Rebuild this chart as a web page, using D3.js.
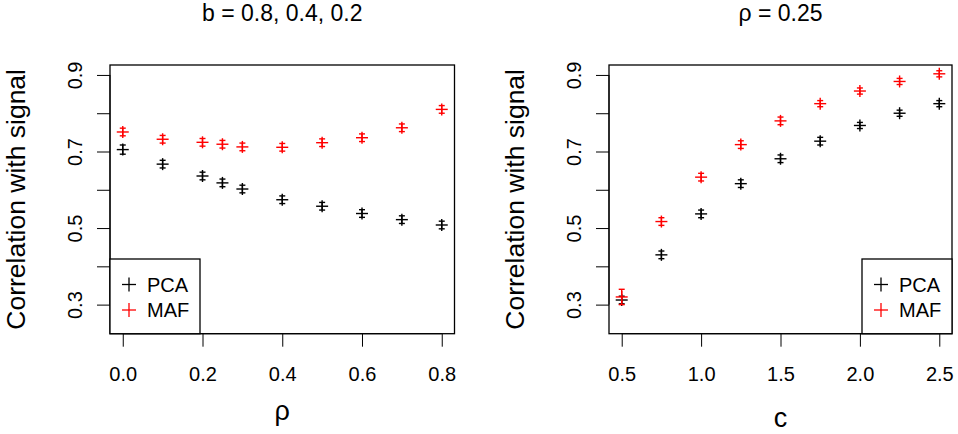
<!DOCTYPE html>
<html><head><meta charset="utf-8">
<script src="https://cdn.jsdelivr.net/npm/d3@7"></script>
<style>
html,body{margin:0;padding:0;background:#fff;}
text{font-family:"Liberation Sans",Arial,Helvetica,sans-serif;fill:#000;}
</style></head>
<body>
<svg id="chart" width="958" height="434"></svg>
<script>
// ---- data ----
const rhoValues = [0, 0.1, 0.2, 0.25, 0.3, 0.4, 0.5, 0.6, 0.7, 0.8];
const leftPCA = [0.705, 0.667, 0.636, 0.618, 0.602, 0.574, 0.557, 0.538, 0.522, 0.508];
const leftMAF = [0.751, 0.732, 0.724, 0.719, 0.712, 0.711, 0.723, 0.736, 0.762, 0.810];
const leftPCAerr = [0.012, 0.010, 0.010, 0.010, 0.010, 0.010, 0.010, 0.010, 0.010, 0.010];
const leftMAFerr = [0.010, 0.010, 0.010, 0.010, 0.010, 0.010, 0.010, 0.010, 0.010, 0.010];

const cValues = [0.5, 0.75, 1.0, 1.25, 1.5, 1.75, 2.0, 2.25, 2.5];
const rightPCA = [0.312, 0.430, 0.537, 0.616, 0.681, 0.727, 0.768, 0.800, 0.825];
const rightMAF = [0.320, 0.517, 0.633, 0.718, 0.780, 0.825, 0.858, 0.883, 0.903];
const rightPCAerr = [0.010, 0.010, 0.010, 0.010, 0.010, 0.010, 0.008, 0.008, 0.008];
const rightMAFerr = [0.020, 0.010, 0.010, 0.010, 0.010, 0.008, 0.008, 0.008, 0.008];

const yTicks = [0.3, 0.4, 0.5, 0.6, 0.7, 0.8, 0.9];
const yTickLabels = ["0.3", "", "0.5", "", "0.7", "", "0.9"];
const leftXTicks = [0, 0.2, 0.4, 0.6, 0.8];
const rightXTicks = [0.5, 1.0, 1.5, 2.0, 2.5];
const seriesNames = ["PCA", "MAF"];
const seriesColors = ["#000000", "#ff0000"];

const svg = d3.select("#chart");
const FONT = '"Liberation Sans",Arial,sans-serif';

function panel(opts) {
  const {x0, x1, y0, y1, xDomain, xTicks, xs, series, errs, title, xlab, xlabY, legendSide} = opts;
  const g = svg.append("g");
  // R-style 4% extension
  const ext = (a, b) => { const r = b - a; return [a - 0.04 * r, b + 0.04 * r]; };
  const x = d3.scaleLinear().domain(ext(xDomain[0], xDomain[1])).range([x0, x1]);
  const y = d3.scaleLinear().domain(ext(0.25, 0.9)).range([y1, y0]);

  // x axis
  const xa = g.append("g").attr("transform", `translate(0,${y1})`)
    .call(d3.axisBottom(x).tickValues(xTicks).tickFormat(d3.format(".1f")).tickSize(13));
  xa.select(".domain").attr("d", `M${x(xTicks[0])},0H${x(xTicks[xTicks.length-1])}`);
  xa.selectAll("text").attr("font-size", 20).style("font-family", FONT)
    .attr("y", 47).attr("dy", null);
  xa.selectAll("line,path").attr("stroke", "#000");

  // y axis
  const ya = g.append("g").attr("transform", `translate(${x0},0)`)
    .call(d3.axisLeft(y).tickValues(yTicks).tickFormat((d, i) => yTickLabels[i]).tickSize(13));
  ya.select(".domain").attr("d", `M0,${y(yTicks[0])}V${y(yTicks[yTicks.length-1])}`);
  ya.selectAll("line,path").attr("stroke", "#000");
  ya.selectAll("text")
    .attr("font-size", 20)
    .style("font-family", FONT)
    .attr("x", null).attr("dy", null)
    .attr("text-anchor", "middle")
    .attr("transform", `translate(-28,0) rotate(-90)`)
    .attr("y", 0);

  // box
  g.append("rect").attr("x", x0).attr("y", y0).attr("width", x1 - x0).attr("height", y1 - y0)
    .attr("fill", "none").attr("stroke", "#000").attr("stroke-width", 1.3);

  // points
  series.forEach((vals, si) => {
    const col = seriesColors[si];
    const pg = g.append("g").attr("stroke", col).attr("stroke-width", 1.4).attr("fill", "none");
    vals.forEach((v, i) => {
      const cx = x(xs[i]), cy = y(v);
      const e = errs[si][i];
      const yt = y(v + e), yb = y(v - e);
      // error bar
      pg.append("line").attr("x1", cx).attr("x2", cx).attr("y1", yt).attr("y2", yb);
      pg.append("line").attr("x1", cx - 3).attr("x2", cx + 3).attr("y1", yt).attr("y2", yt);
      pg.append("line").attr("x1", cx - 3).attr("x2", cx + 3).attr("y1", yb).attr("y2", yb);
      // plus symbol
      pg.append("line").attr("x1", cx - 6).attr("x2", cx + 6).attr("y1", cy).attr("y2", cy);
      pg.append("line").attr("x1", cx).attr("x2", cx).attr("y1", cy - 6).attr("y2", cy + 6);
    });
  });

  // title
  g.append("text").attr("x", (x0 + x1) / 2).attr("y", 21).attr("text-anchor", "middle")
    .attr("font-size", 23).text(title);
  // x label
  g.append("text").attr("x", (x0 + x1) / 2).attr("y", xlabY).attr("text-anchor", "middle")
    .attr("font-size", 27).text(xlab);
  // y label
  g.append("text").attr("transform", `translate(${x0 - 85},${(y0 + y1) / 2}) rotate(-90)`)
    .attr("text-anchor", "middle").attr("font-size", 26.5).text("Correlation with signal");

  // legend
  const lw = 90, lh = y1 - 259;
  const lx = legendSide === "left" ? x0 : x1 - lw;
  const lg = g.append("g");
  lg.append("rect").attr("x", lx).attr("y", 259).attr("width", lw).attr("height", lh)
    .attr("fill", "#fff").attr("stroke", "#000").attr("stroke-width", 1.3);
  seriesNames.forEach((n, i) => {
    const cy = 284.5 + i * 25.5;
    const px = lx + 19;
    lg.append("line").attr("x1", px - 7).attr("x2", px + 7).attr("y1", cy).attr("y2", cy)
      .attr("stroke", seriesColors[i]).attr("stroke-width", 1.3);
    lg.append("line").attr("x1", px).attr("x2", px).attr("y1", cy - 7).attr("y2", cy + 7)
      .attr("stroke", seriesColors[i]).attr("stroke-width", 1.3);
    lg.append("text").attr("x", lx + 37).attr("y", cy).attr("dy", "0.36em")
      .attr("font-size", 20).text(n);
  });
}

panel({x0: 110, x1: 454.5, y0: 65, y1: 333.7, xDomain: [0, 0.8], xTicks: leftXTicks, xs: rhoValues,
  series: [leftPCA, leftMAF], errs: [leftPCAerr, leftMAFerr], title: "b = 0.8, 0.4, 0.2", xlab: "ρ", xlabY: 420, legendSide: "left"});
panel({x0: 609, x1: 952, y0: 65, y1: 333.7, xDomain: [0.5, 2.5], xTicks: rightXTicks, xs: cValues,
  series: [rightPCA, rightMAF], errs: [rightPCAerr, rightMAFerr], title: "ρ = 0.25", xlab: "c", xlabY: 427, legendSide: "right"});
</script>
</body></html>
